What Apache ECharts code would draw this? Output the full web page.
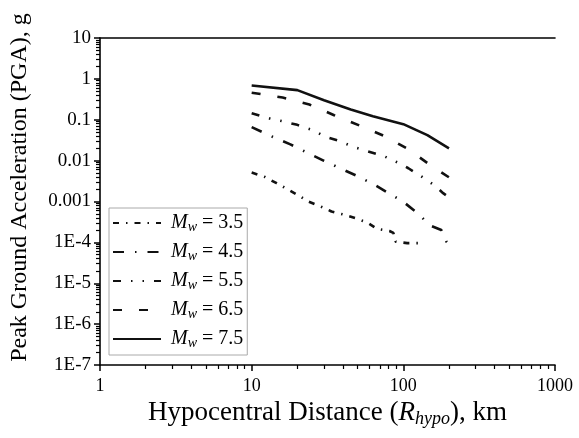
<!DOCTYPE html>
<html>
<head>
<meta charset="utf-8">
<script src="https://cdn.jsdelivr.net/npm/echarts@6/dist/echarts.min.js"></script>
<style>html,body{margin:0;padding:0;background:#fff}#c{width:579px;height:438px}</style>
</head>
<body>
<div id="c"></div>
<script>
// ---- data ----
const magnitudes = ['3.5', '4.5', '5.5', '6.5', '7.5'];

const dist35 = [10, 12.2, 14.6, 17.2, 20.4, 23.6, 28.4, 33.6, 40.3, 48.3, 58, 67, 81, 86, 89, 106, 127];
const pga35  = [0.0051, 0.0040, 0.0028, 0.0020, 0.0014, 0.0010, 0.00076, 0.00057, 0.00048, 0.00039, 0.000305, 0.000215, 0.00019, 0.00017, 0.000104, 0.000096, 0.000096];

const dist45 = [10, 14, 18, 23, 30, 38, 49, 63, 80, 100, 124, 150, 178, 192, 200];
const pga45  = [0.066, 0.037, 0.025, 0.016, 0.0099, 0.0066, 0.0043, 0.0027, 0.0016, 0.00098, 0.00052, 0.00026, 0.0002, 0.000105, 0.00009];

const dist55 = [10, 13.3, 16, 20, 25.6, 30.2, 38, 48, 58, 74, 91, 108, 133, 160, 183, 200];
const pga55  = [0.144, 0.106, 0.092, 0.075, 0.055, 0.039, 0.030, 0.021, 0.017, 0.013, 0.0091, 0.0065, 0.0040, 0.0025, 0.0016, 0.00126];

const dist65 = [10, 16, 24, 35, 52, 76, 109, 151, 200];
const pga65  = [0.46, 0.35, 0.236, 0.129, 0.071, 0.039, 0.0186, 0.0077, 0.0039];

const dist75 = [10, 20, 30, 45, 63, 100, 144, 200];
const pga75  = [0.69, 0.53, 0.30, 0.178, 0.122, 0.078, 0.042, 0.020];

const xMajorTicks = [1, 10, 100, 1000];
const xMinorTicks = [2,3,4,5,6,7,8,9,20,30,40,50,60,70,80,90,200,300,400,500,600,700,800,900];
const yMajorTicks = [1e-7, 1e-6, 1e-5, 1e-4, 0.001, 0.01, 0.1, 1, 10];
const yTickLabels = ['1E-7', '1E-6', '1E-5', '1E-4', '0.001', '0.01', '0.1', '1', '10'];
const yMinorTicks = [];
for (let e = -7; e < 1; e++) for (let k = 2; k <= 9; k++) yMinorTicks.push(+(k * Math.pow(10, e)).toPrecision(3));

// ---- build ----
const FONT = 'Liberation Serif';
const dashes = [[6, 7, 1.5, 7], [11, 11, 1.5, 11], [8, 10, 1.5, 10, 1.5, 10], [9, 17], 'solid'];
const seriesData = [[dist35, pga35], [dist45, pga45], [dist55, pga55], [dist65, pga65], [dist75, pga75]];

function pair(d, v) { return d.map((x, i) => [x, v[i]]); }
function yLabel(val) {
  const e = Math.round(Math.log10(val));
  const idx = yMajorTicks.findIndex(t => Math.round(Math.log10(t)) === e);
  return idx >= 0 ? yTickLabels[idx] : '';
}

const series = magnitudes.map((m, i) => ({
  name: 'Mw = ' + m,
  type: 'line',
  xAxisIndex: 0, yAxisIndex: 0,
  data: pair(seriesData[i][0], seriesData[i][1]),
  symbol: 'none',
  showSymbol: false,
  lineStyle: { color: '#111', width: 2.6, type: dashes[i], cap: 'butt' },
  itemStyle: { color: '#111' },
  silent: true,
  animation: false
}));

const axisLineStyle = { color: '#000', width: 1.6 };

const option = {
  backgroundColor: '#fff',
  animation: false,
  grid: { left: 99, right: 24, top: 38, bottom: 73, containLabel: false },
  legend: {
    show: true,
    orient: 'vertical',
    left: 109, top: 208,
    padding: [5, 4, 5, 3],
    itemWidth: 48, itemHeight: 14, itemGap: 8,
    borderColor: '#aaa', borderWidth: 1,
    backgroundColor: '#fff',
    itemStyle: { opacity: 0 },
    data: magnitudes.map(m => 'Mw = ' + m),
    formatter: function (name) { return '{i|M}{s|w}{n| = ' + name.slice(5) + '}'; },
    textStyle: {
      fontFamily: FONT, fontSize: 20, color: '#000',
      rich: {
        i: { fontFamily: FONT, fontSize: 20, lineHeight: 22, fontStyle: 'italic', color: '#000', padding: [0, 0, 0, 5] },
        s: { fontFamily: FONT, fontSize: 14, lineHeight: 11, fontStyle: 'italic', color: '#000', verticalAlign: 'bottom' },
        n: { fontFamily: FONT, fontSize: 20, lineHeight: 22, color: '#000' }
      }
    }
  },
  xAxis: [
    {
      type: 'log', logBase: 10, min: 1, max: 1000, position: 'bottom',
      axisLine: { show: true, lineStyle: axisLineStyle },
      axisTick: { show: true, inside: false, length: 6, lineStyle: { color: '#000', width: 1.5 }, customValues: xMajorTicks },
      axisLabel: { show: true, customValues: xMajorTicks, color: '#000', fontFamily: FONT, fontSize: 18, margin: 12,
        formatter: v => String(Math.round(v)) },
      splitLine: { show: false },
      name: '{n|Hypocentral Distance (}{i|R}{s|hypo}{n|), km}',
      nameLocation: 'middle', nameGap: 15,
      nameTextStyle: {
        fontFamily: FONT, fontSize: 27, color: '#000',
        rich: {
          n: { fontFamily: FONT, fontSize: 27, lineHeight: 30, color: '#000' },
          i: { fontFamily: FONT, fontSize: 27, lineHeight: 30, fontStyle: 'italic', color: '#000' },
          s: { fontFamily: FONT, fontSize: 18, lineHeight: 15, fontStyle: 'italic', color: '#000', verticalAlign: 'bottom' }
        }
      }
    },
    {
      type: 'log', logBase: 10, min: 1, max: 1000, position: 'bottom', gridIndex: 0,
      axisLine: { show: false },
      axisTick: { show: true, inside: false, length: 4, lineStyle: { color: '#000', width: 1.2 }, customValues: xMinorTicks },
      axisLabel: { show: false },
      splitLine: { show: false }
    },
    {
      type: 'log', logBase: 10, min: 1, max: 1000, position: 'top', gridIndex: 0,
      axisLine: { show: true, lineStyle: axisLineStyle },
      axisTick: { show: false }, axisLabel: { show: false }, splitLine: { show: false }
    }
  ],
  yAxis: [
    {
      type: 'log', logBase: 10, min: 1e-7, max: 10, position: 'left',
      axisLine: { show: true, lineStyle: axisLineStyle },
      axisTick: { show: true, inside: false, length: 6, lineStyle: { color: '#000', width: 1.5 }, customValues: yMajorTicks },
      axisLabel: { show: true, customValues: yMajorTicks, color: '#000', fontFamily: FONT, fontSize: 19, margin: 9,
        formatter: v => yLabel(v) },
      splitLine: { show: false },
      name: 'Peak Ground Acceleration (PGA), g',
      nameLocation: 'middle', nameGap: 68,
      nameTextStyle: { fontFamily: FONT, fontSize: 24, color: '#000', padding: [0, 0, 0, 28] }
    },
    {
      type: 'log', logBase: 10, min: 1e-7, max: 10, position: 'left', gridIndex: 0,
      axisLine: { show: false },
      axisTick: { show: true, inside: false, length: 4, lineStyle: { color: '#000', width: 1.2 }, customValues: yMinorTicks },
      axisLabel: { show: false },
      splitLine: { show: false }
    }
  ],
  series: series
};

const chart = echarts.init(document.getElementById('c'), null, { renderer: 'canvas' });
chart.setOption(option);
</script>
</body>
</html>
